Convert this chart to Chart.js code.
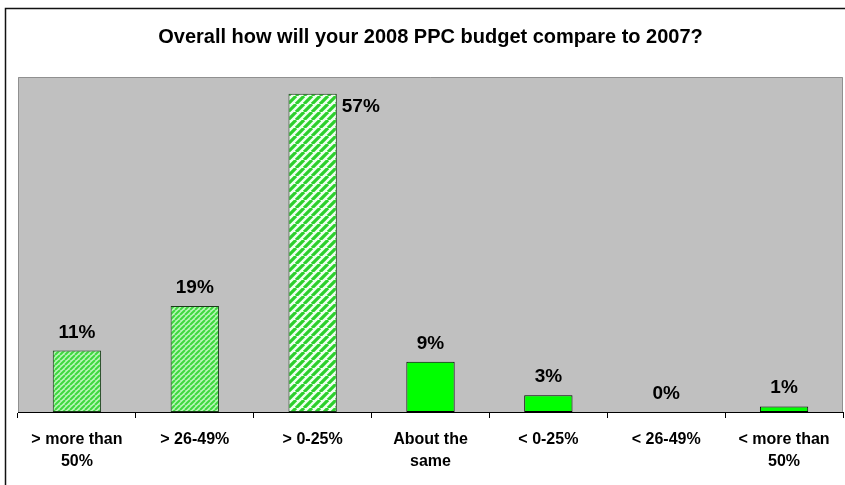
<!DOCTYPE html>
<html>
<head>
<meta charset="utf-8">
<title>PPC budget 2008 vs 2007</title>
<script src="https://cdn.jsdelivr.net/npm/chart.js@4/dist/chart.umd.min.js"></script>
<style>
  html, body { margin: 0; padding: 0; background: #fff; }
  #wrap { width: 845px; height: 485px; }
</style>
</head>
<body>
<div id="wrap"><canvas id="budgetChart" width="845" height="485"></canvas></div>
<script>
// survey answers, share of respondents in %
const categories = [
  ['> more than', '50%'],
  '> 26-49%',
  '> 0-25%',
  ['About the', 'same'],
  '< 0-25%',
  '< 26-49%',
  ['< more than', '50%']
];
const shares = [11, 19, 57, 9, 3, 0, 1];
const titleText = 'Overall how will your 2008 PPC budget compare to 2007?';

// diagonal stripe fill for the "increase" answers
function stripes(period, bg, fg) {
  const c = document.createElement('canvas');
  c.width = period; c.height = period;
  const g = c.getContext('2d');
  g.fillStyle = bg;
  g.fillRect(0, 0, period, period);
  g.strokeStyle = fg;
  g.lineWidth = period * 0.4;
  g.beginPath();
  for (let k = -1; k <= 1; k++) {
    g.moveTo(k * period, period);
    g.lineTo(k * period + period, 0);
  }
  g.stroke();
  return g.createPattern(c, 'repeat');
}

const ctx = document.getElementById('budgetChart').getContext('2d');
const wideStripes = stripes(8, '#effff0', '#2cd02c');
const fineStripes = stripes(5, '#b8f7b8', '#3ed83e');

function barFill(c) {
  const i = c.dataIndex;
  if (i > 2) return '#00ff00';
  return shares[i] > 40 ? wideStripes : fineStripes;
}

// outer frame + grey plot area
const backdrop = {
  id: 'backdrop',
  beforeDraw(chart) {
    const g = chart.ctx, a = chart.chartArea;
    g.save();
    g.fillStyle = '#fff';
    g.fillRect(0, 0, chart.width, chart.height);
    g.strokeStyle = '#111';
    g.lineWidth = 1.5;
    g.strokeRect(5.5, 8.5, 900, 600);
    g.fillStyle = '#c0c0c0';
    g.fillRect(a.left, a.top, a.right - a.left, a.bottom - a.top);
    g.strokeStyle = '#909090';
    g.lineWidth = 1;
    g.beginPath();
    g.moveTo(a.left + 0.5, a.bottom);
    g.lineTo(a.left + 0.5, a.top + 0.5);
    g.lineTo(a.right - 0.5, a.top + 0.5);
    g.lineTo(a.right - 0.5, a.bottom);
    g.stroke();
    g.restore();
  }
};

// percentage labels above bars (or beside when the bar is too tall)
const valueLabels = {
  id: 'valueLabels',
  afterDatasetsDraw(chart) {
    const g = chart.ctx, a = chart.chartArea;
    const meta = chart.getDatasetMeta(0);
    g.save();
    g.font = 'bold 19px "Liberation Sans", Arial, sans-serif';
    g.fillStyle = '#000';
    g.textBaseline = 'alphabetic';
    meta.data.forEach((bar, i) => {
      const txt = shares[i] + '%';
      if (bar.y - 35 < a.top) {
        g.textAlign = 'left';
        g.fillText(txt, bar.x + bar.width / 2 + 5, bar.y + 18);
      } else {
        g.textAlign = 'center';
        g.fillText(txt, bar.x, bar.y - 13);
      }
    });
    g.restore();
  }
};

new Chart(ctx, {
  type: 'bar',
  data: {
    labels: categories,
    datasets: [{
      data: shares,
      backgroundColor: barFill,
      borderColor: c => c.dataIndex > 2 ? '#000' : '#1a3a1a',
      borderWidth: c => shares[c.dataIndex] === 0 ? 0 : 1,
      borderSkipped: false,
      categoryPercentage: 1,
      barPercentage: 0.41
    }]
  },
  options: {
    responsive: false,
    animation: false,
    devicePixelRatio: 1,
    layout: { padding: { left: 18, right: 2, top: 0, bottom: 0 } },
    plugins: {
      legend: { display: false },
      tooltip: { enabled: false },
      title: {
        display: true,
        text: titleText,
        color: '#000',
        font: { family: '"Liberation Sans", Arial, sans-serif', size: 20, weight: 'bold' },
        padding: { top: 25, bottom: 28 }
      }
    },
    scales: {
      y: {
        display: false,
        min: 0,
        max: 60
      },
      x: {
        afterFit(scale) { scale.height = 73; },
        border: { display: true, color: '#000', width: 1 },
        grid: {
          offset: true,
          drawOnChartArea: false,
          drawTicks: true,
          tickLength: 6,
          color: '#000'
        },
        ticks: {
          color: '#000',
          padding: 10,
          maxRotation: 0,
          autoSkip: false,
          font: { family: '"Liberation Sans", Arial, sans-serif', size: 16, weight: 'bold', lineHeight: 1.4 }
        }
      }
    }
  },
  plugins: [backdrop, valueLabels]
});
</script>
</body>
</html>
